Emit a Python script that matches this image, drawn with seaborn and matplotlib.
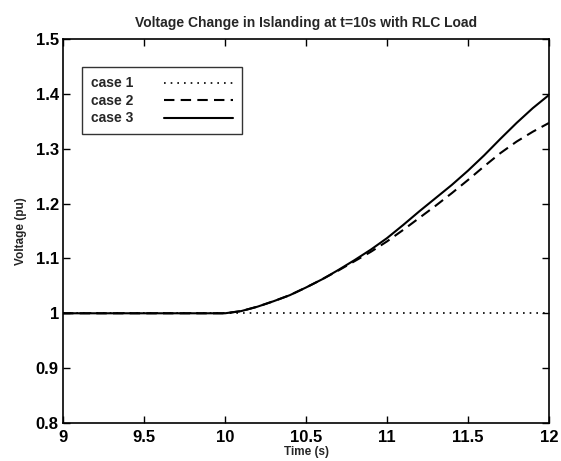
import numpy as np
import pandas as pd
import matplotlib
matplotlib.use("Agg")
import matplotlib.pyplot as plt
import seaborn as sns

# values
time_case1 = [9.0, 12.0]
volt_case1 = [1.0, 1.0]

time_case2 = [9.0, 9.5, 10.0, 10.1, 10.2, 10.3, 10.4, 10.5, 10.6, 10.7, 10.8, 10.9, 11.0,
              11.1, 11.2, 11.3, 11.4, 11.5, 11.6, 11.7, 11.8, 11.9, 12.0]
volt_case2 = [1.0, 1.0, 1.0, 1.004, 1.012, 1.022, 1.033, 1.047, 1.062, 1.078, 1.095, 1.112, 1.131,
              1.152, 1.174, 1.196, 1.219, 1.243, 1.268, 1.292, 1.313, 1.331, 1.347]

time_case3 = [9.0, 9.5, 10.0, 10.1, 10.2, 10.3, 10.4, 10.5, 10.6, 10.7, 10.8, 10.9, 11.0,
              11.1, 11.2, 11.3, 11.4, 11.5, 11.6, 11.7, 11.8, 11.9, 12.0]
volt_case3 = [1.0, 1.0, 1.0, 1.004, 1.012, 1.022, 1.033, 1.047, 1.062, 1.079, 1.097, 1.116, 1.137,
              1.161, 1.186, 1.210, 1.234, 1.260, 1.288, 1.318, 1.347, 1.374, 1.398]

x_ticks = [9, 9.5, 10, 10.5, 11, 11.5, 12]
x_tick_labels = ["9", "9.5", "10", "10.5", "11", "11.5", "12"]
y_ticks = [0.8, 0.9, 1.0, 1.1, 1.2, 1.3, 1.4, 1.5]
y_tick_labels = ["0.8", "0.9", "1", "1.1", "1.2", "1.3", "1.4", "1.5"]

sns.set_style("ticks")
plt.rcParams['font.family'] = ['Liberation Sans', 'DejaVu Sans']
plt.rcParams['font.weight'] = 'bold'

fig = plt.figure(figsize=(5.61, 4.61), dpi=100)
ax = fig.add_axes([63 / 561, 1 - 423 / 461, (549 - 63) / 561, (423 - 39) / 461])

df1 = pd.DataFrame({"t": time_case1, "v": volt_case1})
df2 = pd.DataFrame({"t": time_case2, "v": volt_case2})
df3 = pd.DataFrame({"t": time_case3, "v": volt_case3})

sns.lineplot(data=df1, x="t", y="v", ax=ax, color="black", lw=1.2,
             linestyle=(0, (1, 3)), label="case 1")
sns.lineplot(data=df2, x="t", y="v", ax=ax, color="black", lw=1.5,
             linestyle=(0, (5, 3)), label="case 2")
sns.lineplot(data=df3, x="t", y="v", ax=ax, color="black", lw=1.5,
             label="case 3")

ax.set_xlim(9, 12)
ax.set_ylim(0.8, 1.5)
ax.set_xticks(x_ticks)
ax.set_xticklabels(x_tick_labels, fontsize=12, fontweight="bold")
ax.set_yticks(y_ticks)
ax.set_yticklabels(y_tick_labels, fontsize=12, fontweight="bold")
ax.tick_params(direction="in", top=True, right=True, length=5, width=1, pad=3, colors="black")
ax.tick_params(axis="x", pad=5)
for s in ax.spines.values():
    s.set_visible(True)
    s.set_color("black")
    s.set_linewidth(1.2)

ax.set_title("Voltage Change in Islanding at t=10s with RLC Load", fontsize=10,
             fontweight="bold", pad=9)
ax.set_xlabel("Time (s)", fontsize=8.5, fontweight="bold", labelpad=1)
ax.set_ylabel("Voltage (pu)", fontsize=8.5, fontweight="bold", labelpad=6)

leg = ax.legend(loc="upper left", bbox_to_anchor=(0.039, 0.926), markerfirst=False,
                frameon=True, fancybox=False, handlelength=5.0, handletextpad=2.2,
                borderpad=0.65, labelspacing=0.25, borderaxespad=0,
                prop={"size": 10, "weight": "bold"})
leg.get_frame().set_edgecolor("black")
leg.get_frame().set_linewidth(1.0)

fig.savefig("out.png", dpi=100)
